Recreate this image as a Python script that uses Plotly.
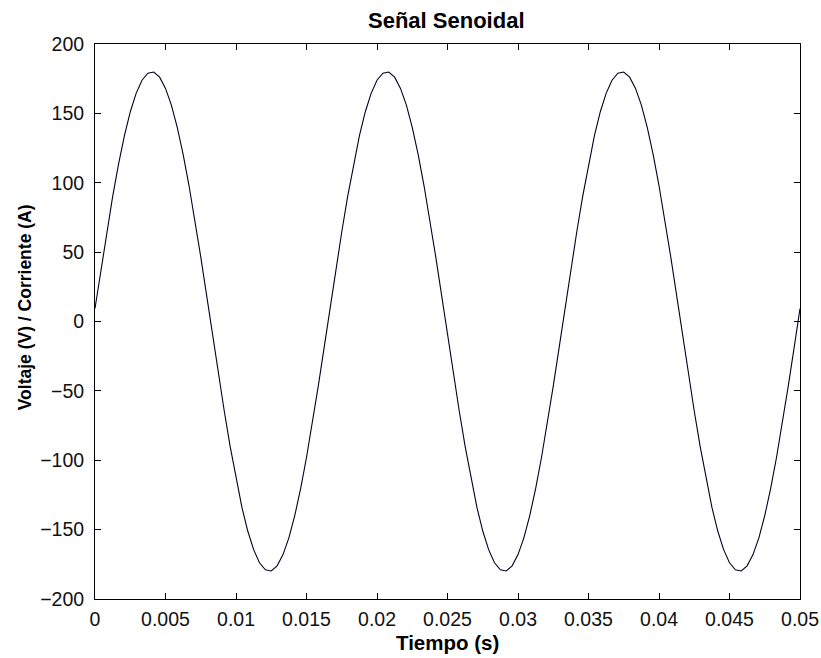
import numpy as np
import plotly.graph_objects as go

# Sample times (s): uniform grid from 0 to 0.05 s, 121 samples
tiempo = np.linspace(0.0, 0.05, 121)

# Signal values (V / A)
senal = [
    9.4, 37.4, 64.5, 90.0, 113.3, 133.8, 151.0, 164.4, 173.9, 179.0,
    179.8, 176.1, 168.0, 155.9, 139.9, 120.4, 98.0, 73.2, 46.6, 18.8,
    -9.4, -37.4, -64.5, -90.0, -113.3, -133.8, -151.0, -164.4, -173.9, -179.0,
    -179.8, -176.1, -168.0, -155.9, -139.9, -120.4, -98.0, -73.2, -46.6, -18.8,
    9.4, 37.4, 64.5, 90.0, 113.3, 133.8, 151.0, 164.4, 173.9, 179.0,
    179.8, 176.1, 168.0, 155.9, 139.9, 120.4, 98.0, 73.2, 46.6, 18.8,
    -9.4, -37.4, -64.5, -90.0, -113.3, -133.8, -151.0, -164.4, -173.9, -179.0,
    -179.8, -176.1, -168.0, -155.9, -139.9, -120.4, -98.0, -73.2, -46.6, -18.8,
    9.4, 37.4, 64.5, 90.0, 113.3, 133.8, 151.0, 164.4, 173.9, 179.0,
    179.8, 176.1, 168.0, 155.9, 139.9, 120.4, 98.0, 73.2, 46.6, 18.8,
    -9.4, -37.4, -64.5, -90.0, -113.3, -133.8, -151.0, -164.4, -173.9, -179.0,
    -179.8, -176.1, -168.0, -155.9, -139.9, -120.4, -98.0, -73.2, -46.6, -18.8,
    9.4,
]

x_ticks = [0, 0.005, 0.01, 0.015, 0.02, 0.025, 0.03, 0.035, 0.04, 0.045, 0.05]
x_tick_labels = ["0", "0.005", "0.01", "0.015", "0.02", "0.025", "0.03", "0.035", "0.04", "0.045", "0.05"]
y_ticks = [-200, -150, -100, -50, 0, 50, 100, 150, 200]

titulo = "Señal Senoidal"
etiqueta_x = "Tiempo (s)"
etiqueta_y = "Voltaje (V) / Corriente (A)"

font_family = "Liberation Sans, Arial, sans-serif"

fig = go.Figure()
fig.add_trace(go.Scatter(
    x=tiempo, y=senal, mode="lines",
    line=dict(color="#000022", width=1.1),
    showlegend=False,
))

axis_common = dict(
    showline=True, linecolor="black", linewidth=1, mirror="ticks",
    ticks="inside", ticklen=6, tickcolor="black", tickwidth=1,
    showgrid=False, zeroline=False, automargin=False,
    tickfont=dict(family=font_family, size=19.5, color="#111111"),
)

fig.update_layout(
    width=821, height=658,
    margin=dict(l=95, r=21, t=44, b=59),
    paper_bgcolor="white", plot_bgcolor="white",
    hovermode=False,
    xaxis=dict(range=[0, 0.05], tickvals=x_ticks, ticktext=x_tick_labels,
               ticklabelstandoff=3, **axis_common),
    yaxis=dict(range=[-200, 200], tickvals=y_ticks,
               ticklabelstandoff=6, **axis_common),
    annotations=[
        dict(text="<b>" + titulo + "</b>", xref="paper", yref="paper",
             x=0.498, y=1.043, xanchor="center", yanchor="middle", showarrow=False,
             font=dict(family=font_family, size=22, color="black")),
        dict(text="<b>" + etiqueta_x + "</b>", xref="paper", yref="paper",
             x=0.500, y=-0.078, xanchor="center", yanchor="middle", showarrow=False,
             font=dict(family=font_family, size=20.5, color="black")),
        dict(text="<b>" + etiqueta_y + "</b>", xref="paper", yref="paper",
             x=-0.099, y=0.526, xanchor="center", yanchor="middle", showarrow=False,
             textangle=-90,
             font=dict(family=font_family, size=17.5, color="black")),
    ],
)

# Remove the default page margin so the figure fills the window exactly.
fig.write_html(
    "out.html",
    config={"displayModeBar": False, "staticPlot": True},
    post_script="document.body.style.margin='0';document.body.style.overflow='hidden';",
)
